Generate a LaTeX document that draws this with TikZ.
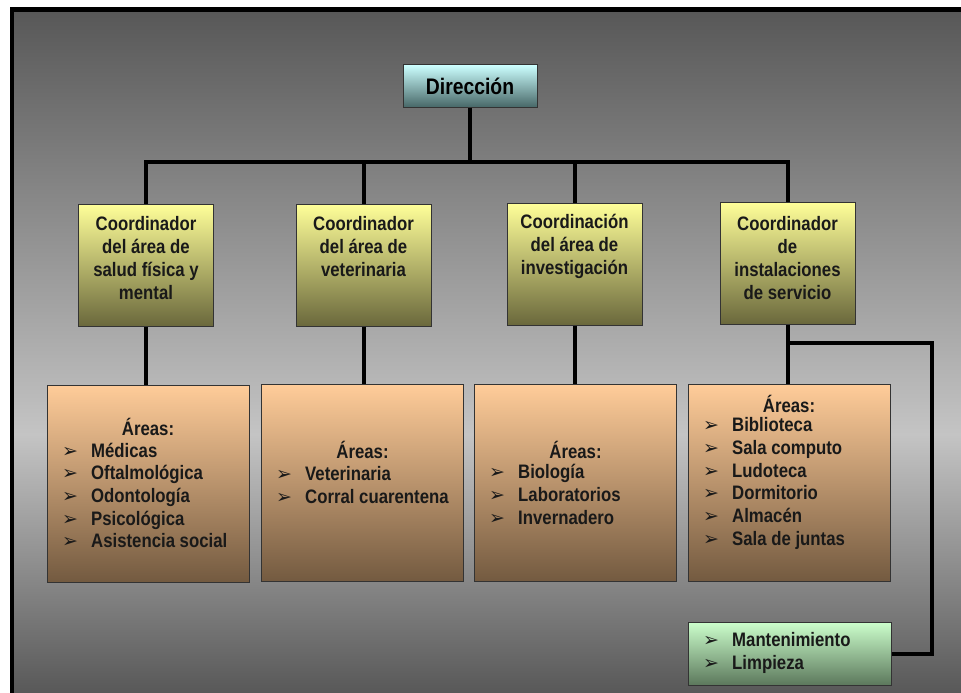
\documentclass[tikz,border=0pt]{standalone}
\usepackage{fontspec}
\setmainfont{Liberation Sans}[FakeStretch=0.86]
\newfontfamily\bulletfont{DejaVu Sans}
\usetikzlibrary{positioning}

\definecolor{bgdark}{RGB}{88,88,88}
\definecolor{bglight}{RGB}{196,196,196}
\definecolor{dirtop}{RGB}{204,255,255}
\definecolor{dirbot}{RGB}{72,104,104}
\definecolor{coordtop}{RGB}{255,255,153}
\definecolor{coordbot}{RGB}{106,104,60}
\definecolor{areatop}{RGB}{255,204,153}
\definecolor{areabot}{RGB}{115,90,64}
\definecolor{servtop}{RGB}{204,255,204}
\definecolor{servbot}{RGB}{92,120,92}

\pgfdeclareverticalshading{bgshade}{100bp}{color(0bp)=(bgdark); color(25bp)=(bgdark); color(44bp)=(bglight); color(75bp)=(bgdark); color(100bp)=(bgdark)}

\newcommand\bul{\makebox[29pt][l]{\bulletfont\fontsize{19}{19}\selectfont ➢}}

\tikzset{
  conn/.style={line width=4pt, draw=black},
  box/.style={draw=black!80, line width=1pt, inner sep=0pt,
    minimum width=135pt, minimum height=122pt},
  dirbox/.style={box, top color=dirtop, bottom color=dirbot,
    minimum width=134pt, minimum height=42pt},
  coordbox/.style={box, top color=coordtop, bottom color=coordbot},
  areabox/.style={box, top color=areatop, bottom color=areabot,
    minimum width=202pt, minimum height=197pt},
  servbox/.style={box, top color=servtop, bottom color=servbot,
    minimum width=203pt, minimum height=63pt},
  txt/.style={font=\bfseries\fontsize{19.5}{23.3}\selectfont, text=black!90,
    inner sep=0pt, align=center},
  listtxt/.style={txt, font=\bfseries\fontsize{19.5}{22.7}\selectfont,
    align=left, anchor=west},
}

\begin{document}
\begin{tikzpicture}[x=1pt, y=-1pt]
  \useasboundingbox (0,0) rectangle (961,693);

  % Background and frame
  \fill[white] (0,0) rectangle (961,693);
  \shade[shading=bgshade] (14,12) rectangle (961,693);
  \fill[black] (10,7) rectangle (961,12);
  \fill[black] (10,7) rectangle (14,693);

  % Direction
  \node[dirbox, font=\bfseries\fontsize{22.5}{26}\selectfont] (dir) at (470,86) {Dirección};

  % Coordinators
  \node[coordbox] (c1) at (146,265) {};
  \node[coordbox] (c2) at (363.5,265) {};
  \node[coordbox] (c3) at (574.5,264) {};
  \node[coordbox] (c4) at (787.5,263) {};

  \node[txt] (c1t) at (146,258) {Coordinador\\del área de\\salud física y\\mental};
  \node[txt] (c2t) at (363.5,246.5) {Coordinador\\del área de\\veterinaria};
  \node[txt] (c3t) at (574.5,246.5) {Coordinación\\del área de\\investigación};
  \node[txt] (c4t) at (787.5,258) {Coordinador\\de\\instalaciones\\de servicio};

  % Areas
  \node[areabox] (a1) at (148,483.5) {};
  \node[areabox] (a2) at (362.5,483) {};
  \node[areabox] (a3) at (575.5,483) {};
  \node[areabox] (a4) at (789,483) {};
  \node[servbox] (g) at (789.5,653.5) {};

  \node[txt] (a1h) at (148,427) {Áreas:};
  \node[txt] (a2h) at (362.5,450) {Áreas:};
  \node[txt] (a3h) at (575.5,450) {Áreas:};
  \node[txt] (a4h) at (789,404) {Áreas:};

  \node[listtxt] (a1l) at (62,495.5) {\bul Médicas\\\bul Oftalmológica\\\bul Odontología\\\bul Psicológica\\\bul Asistencia social};
  \node[listtxt] (a2l) at (276,485) {\bul Veterinaria\\\bul Corral cuarentena};
  \node[listtxt] (a3l) at (489,494.5) {\bul Biología\\\bul Laboratorios\\\bul Invernadero};
  \node[listtxt] (a4l) at (703,483.5) {\bul Biblioteca\\\bul Sala computo\\\bul Ludoteca\\\bul Dormitorio\\\bul Almacén\\\bul Sala de juntas};
  \node[listtxt] (gl) at (703,653) {\bul Mantenimiento\\\bul Limpieza};

  % Connectors
  \coordinate (bus) at (470,162);
  \coordinate (side) at (932,343);
  \draw[conn] (dir.south) -- (bus);
  \draw[conn] (c1.north) |- (bus) -| (c4.north);
  \draw[conn] (c2.north) -- (c2.north |- bus);
  \draw[conn] (c3.north) -- (c3.north |- bus);
  \foreach \i in {1,...,4}
    \draw[conn] (c\i.south) -- (c\i.south |- a\i.north);
  \draw[conn] (c4.south |- side) -- (side) |- (g.east);
\end{tikzpicture}
\end{document}
